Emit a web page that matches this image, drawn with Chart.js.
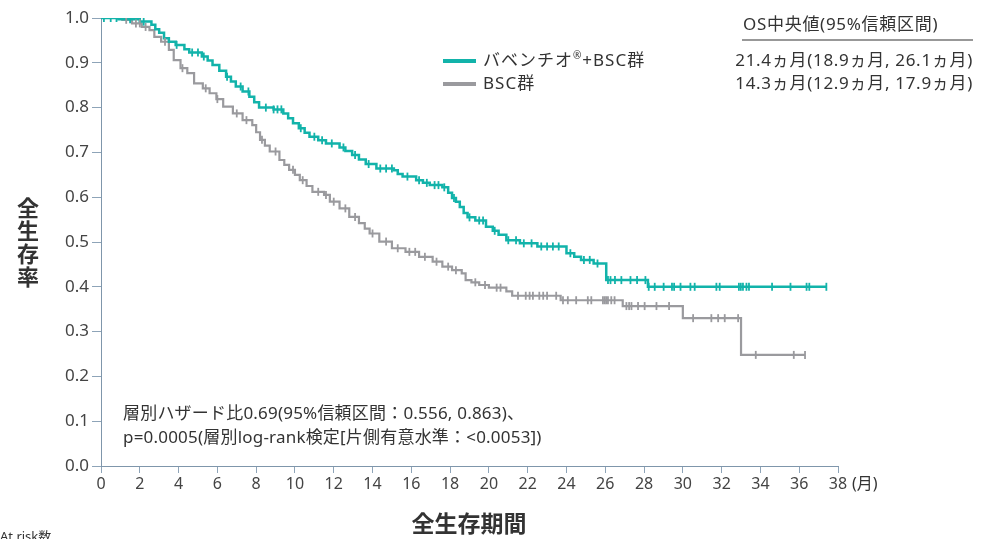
<!DOCTYPE html>
<html><head><meta charset="utf-8">
<script src="https://cdn.jsdelivr.net/npm/chart.js@4"></script>
<style>html,body{margin:0;padding:0;background:#fff;overflow:hidden}#wrap{width:982px;height:539px;position:relative}</style>
</head><body><div id="wrap"><canvas id="c" width="982" height="539"></canvas></div>
<script>
// ---- Data ----
const xTicks = [0,2,4,6,8,10,12,14,16,18,20,22,24,26,28,30,32,34,36,38];
const yTicks = [0,0.1,0.2,0.3,0.4,0.5,0.6,0.7,0.8,0.9,1.0];

// バベンチオ®+BSC群 : event times (months) and survival after each step
const baveTimes = [0,0.9,2.0,2.6,2.8,3.0,3.25,3.5,3.85,4.3,4.55,5.2,5.5,5.75,6.1,6.45,6.7,6.95,7.3,7.65,7.9,8.15,8.9,9.4,9.65,9.9,10.2,10.5,10.75,11.2,11.6,12.3,12.6,12.95,13.3,13.65,14.2,15.1,15.3,15.55,16.25,16.6,16.95,17.6,17.9,18.1,18.3,18.5,18.7,18.9,19.3,19.85,20.2,20.5,20.9,21.6,22.5,24.0,24.4,24.75,25.4,26.05,28.2];
const baveSurv  = [1.0,0.997,0.992,0.985,0.975,0.967,0.955,0.947,0.94,0.93,0.923,0.914,0.905,0.895,0.882,0.869,0.858,0.847,0.836,0.824,0.812,0.80,0.796,0.787,0.776,0.765,0.754,0.744,0.735,0.727,0.72,0.711,0.703,0.694,0.684,0.674,0.664,0.66,0.652,0.646,0.638,0.632,0.627,0.622,0.61,0.598,0.59,0.578,0.565,0.555,0.548,0.534,0.525,0.516,0.504,0.497,0.49,0.475,0.467,0.46,0.452,0.415,0.40];
const baveCensor = [0.15,0.5,0.8,1.5,2.2,3.9,4.7,5.0,5.3,6.5,7.2,7.6,8.5,8.9,9.1,9.3,10.3,11.0,11.4,11.9,12.5,13.1,13.8,14.4,14.7,15.0,15.8,16.4,16.8,17.2,17.4,17.7,18.2,19.0,19.5,19.7,20.3,21.0,21.4,21.8,22.2,22.7,23.0,23.3,23.6,24.2,24.9,25.2,25.6,26.14,26.27,26.5,26.83,27.3,27.64,28.07,28.24,28.55,29.01,29.44,29.55,29.88,30.39,30.61,31.73,31.9,32.89,32.99,33.1,33.28,33.41,34.6,35.55,36.38,36.52,37.4];

// BSC群
const bscTimes = [0,1.1,1.6,2.1,2.5,2.75,3.1,3.5,3.75,4.1,4.45,4.8,5.25,5.6,5.95,6.3,6.8,7.3,7.8,8.0,8.2,8.45,8.7,9.2,9.45,9.7,10.0,10.25,10.6,10.9,11.5,11.8,12.3,12.8,13.3,13.6,13.85,14.35,15.0,15.7,16.4,17.1,17.6,18.1,18.6,18.8,19.1,19.5,20.0,20.9,21.2,23.7,26.9,30.0,33.0];
const bscSurv  = [1.0,0.996,0.988,0.98,0.973,0.958,0.947,0.929,0.906,0.888,0.877,0.854,0.843,0.832,0.819,0.802,0.787,0.772,0.761,0.745,0.728,0.715,0.702,0.683,0.672,0.661,0.65,0.638,0.625,0.612,0.605,0.59,0.575,0.556,0.542,0.53,0.519,0.501,0.486,0.478,0.467,0.456,0.445,0.437,0.43,0.415,0.41,0.404,0.398,0.39,0.38,0.37,0.357,0.33,0.248];
const bscCensor = [1.3,1.8,2.0,2.3,3.3,4.2,5.4,6.0,7.0,7.5,8.3,9.0,9.9,10.4,11.2,11.6,12.0,12.6,13.1,14.0,14.7,15.3,15.9,16.2,16.7,17.3,17.9,18.3,19.3,19.8,20.4,20.6,21.5,21.9,22.1,22.27,22.6,22.8,23.0,23.47,23.82,24.07,24.5,25.1,25.28,25.88,25.97,26.05,26.14,26.31,26.48,27.09,27.23,27.35,27.69,28.03,28.64,29.29,30.53,31.47,31.82,32.16,32.85,33.76,35.72,36.3];

const seriesNames = ['バベンチオ®+BSC群','BSC群'];
const medianRows = ['21.4ヵ月(18.9ヵ月, 26.1ヵ月)','14.3ヵ月(12.9ヵ月, 17.9ヵ月)'];

// ---- Build ----
const TEAL = '#12b3aa', GRAY = '#9a9a9e', TXT = '#333333';
const FONT = '"Noto Sans", "Noto Sans CJK JP", sans-serif';
const BFONT = '"Noto Sans CJK JP", "Noto Sans", sans-serif';

function stepAt(times, surv, t){ let s = surv[0]; for(let i=0;i<times.length;i++){ if(times[i]<=t) s=surv[i]; } return s; }
function curve(times, surv, censor){
  const pts = times.map((t,i)=>({x:t,y:surv[i]}));
  const last = Math.max(...censor);
  pts.push({x:last, y:stepAt(times,surv,last)});
  return pts;
}
function marks(times, surv, censor){ return censor.map(t=>({x:t,y:stepAt(times,surv,t)})); }

Chart.defaults.font.family = FONT;

const textPlugin = {
  id:'texts',
  afterDraw(chart){
    const ctx = chart.ctx;
    ctx.save();
    ctx.fillStyle = TXT; ctx.textBaseline = 'middle';
    // legend
    const leg = [[TEAL,61],[GRAY,84]];
    leg.forEach(([c,y])=>{
      ctx.strokeStyle = c; ctx.lineWidth = 4; ctx.beginPath(); ctx.moveTo(443,y); ctx.lineTo(476,y); ctx.stroke();
    });
    ctx.textAlign = 'left';
    ctx.font = '17px ' + FONT; ctx.letterSpacing = '1px';
    let x = 483;
    const p1 = 'バベンチオ'; ctx.fillText(p1, x, 61); x += ctx.measureText(p1).width;
    ctx.font = '10px ' + FONT; ctx.letterSpacing = '0px'; ctx.fillText('®', x, 56); x += ctx.measureText('®').width + 1;
    ctx.font = '17px ' + FONT; ctx.letterSpacing = '1px'; ctx.fillText('+BSC群', x, 61);
    ctx.fillText(seriesNames[1], 483, 84);
    // median header
    ctx.letterSpacing = '0.7px';
    ctx.fillText('OS中央値(95%信頼区間)', 743, 25);
    ctx.strokeStyle = TXT; ctx.lineWidth = 1.2; ctx.beginPath(); ctx.moveTo(742,40); ctx.lineTo(973,40); ctx.stroke();
    ctx.textAlign = 'right';
    ctx.fillText(medianRows[0], 973, 61);
    ctx.fillText(medianRows[1], 973, 84);
    // annotation
    ctx.textAlign = 'left'; ctx.letterSpacing = '0.2px';
    ctx.fillText('層別ハザード比0.69(95%信頼区間：0.556, 0.863)、', 123, 414);
    ctx.fillText('p=0.0005(層別log-rank検定[片側有意水準：<0.0053])', 123, 438);
    ctx.letterSpacing = '0px';
    // unit
    ctx.font = '16px ' + FONT;
    ctx.fillText('(月)', 852, 484);
    // axis titles
    ctx.font = 'bold 22px ' + BFONT; ctx.textAlign = 'center';
    ['全','生','存','率'].forEach((ch,i)=>ctx.fillText(ch, 28, 208 + i*23));
    ctx.font = 'bold 23px ' + BFONT;
    ctx.fillText('全生存期間', 469, 523);
    ctx.font = '13px ' + FONT; ctx.textAlign = 'left';
    ctx.fillText('At risk数', 0, 537);
    ctx.restore();
  }
};

new Chart(document.getElementById('c'), {
  type:'line',
  data:{ datasets:[
    {label:seriesNames[0], data:curve(baveTimes,baveSurv,baveCensor), stepped:'before', borderColor:TEAL, borderWidth:2.5, pointRadius:0, fill:false, order:2},
    {label:seriesNames[1], data:curve(bscTimes,bscSurv,bscCensor), stepped:'before', borderColor:GRAY, borderWidth:2.2, pointRadius:0, fill:false, order:3},
    {label:'c1', data:marks(baveTimes,baveSurv,baveCensor), showLine:false, pointStyle:'line', rotation:90, pointRadius:4, borderColor:TEAL, pointBorderColor:TEAL, pointBorderWidth:1.8, order:0},
    {label:'c2', data:marks(bscTimes,bscSurv,bscCensor), showLine:false, pointStyle:'line', rotation:90, pointRadius:4, borderColor:GRAY, pointBorderColor:GRAY, pointBorderWidth:1.8, order:1}
  ]},
  options:{
    responsive:false, animation:false, devicePixelRatio:1,
    layout:{padding:{top:18,right:144,left:0,bottom:0}},
    plugins:{legend:{display:false}, tooltip:{enabled:false}},
    scales:{
      x:{type:'linear', min:0, max:38, afterBuildTicks:s=>{s.ticks = xTicks.map(v=>({value:v}));},
         ticks:{color:'#444', font:{size:16}, padding:2, maxRotation:0, autoSkip:false},
         grid:{display:true, drawOnChartArea:false, drawTicks:true, tickLength:7, color:'#8ea4b8'},
         border:{display:true, color:'#7f96ab', width:1},
         afterFit:s=>{s.height=73;}},
      y:{type:'linear', min:0, max:1, afterBuildTicks:s=>{s.ticks = yTicks.map(v=>({value:v}));},
         ticks:{color:'#444', font:{size:17}, padding:3, callback:v=>Number(v).toFixed(1)},
         grid:{display:true, drawOnChartArea:false, drawTicks:true, tickLength:9, color:'#8ea4b8'},
         border:{display:true, color:'#7f96ab', width:1},
         afterFit:s=>{s.width=101;}}
    }
  },
  plugins:[textPlugin]
});
</script></body></html>
